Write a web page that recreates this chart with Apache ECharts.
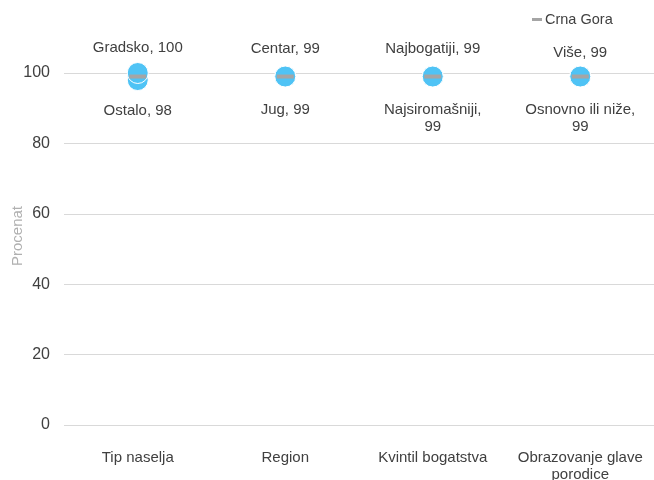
<!DOCTYPE html>
<html><head><meta charset="utf-8">
<script src="https://cdn.jsdelivr.net/npm/echarts@6/dist/echarts.min.js"></script>
<style>html,body{margin:0;padding:0;background:#fff}#c{width:654px;height:480px}</style>
</head><body><div id="c"></div>
<script>
var categories = ['Tip naselja', 'Region', 'Kvintil bogatstva', 'Obrazovanje glave\nporodice'];
var highNames = ['Gradsko', 'Centar', 'Najbogatiji', 'Više'];
var highValues = [100, 99, 99, 99];
var lowNames = ['Ostalo', 'Jug', 'Najsiromašniji,\n', 'Osnovno ili niže,\n'];
var lowValues = [98, 99, 99, 99];
var nationalName = 'Crna Gora';
var nationalValues = [99, 99, 99, 99];
var yTicks = [0, 20, 40, 60, 80, 100];

var font = 'Liberation Sans';
var chart = echarts.init(document.getElementById('c'));
function mk(names, vals) {
  return vals.map(function (v, i) { return { value: v, name: names[i] }; });
}
var highData = mk(highNames, highValues);
highData[0].label = { distance: 7 };
highData[3].label = { distance: 5 };
var lowData = mk(lowNames, lowValues);
lowData[0].label = { distance: 11 };
chart.setOption({
  animation: false,
  textStyle: { fontFamily: font },
  legend: {
    data: [{ name: nationalName, icon: 'rect' }],
    left: 527, top: 7, itemWidth: 10, itemHeight: 3, itemGap: 2,
    textStyle: { color: '#404040', fontSize: 14.5, fontFamily: font, padding: [0, 0, 0, -2] }
  },
  grid: { left: 64, right: 0, top: 73, bottom: 55, containLabel: false, outerBoundsMode: 'none' },
  xAxis: {
    type: 'category', data: categories,
    axisLine: { show: false }, axisTick: { show: false },
    axisLabel: { color: '#404040', fontSize: 15, margin: 24, lineHeight: 17, fontFamily: font, interval: 0 }
  },
  yAxis: {
    type: 'value', min: yTicks[0], max: yTicks[yTicks.length - 1], interval: 20,
    name: 'Procenat', nameLocation: 'middle', nameGap: 39, nameMoveOverlap: false,
    nameTextStyle: { color: '#b0b0b0', fontSize: 15, fontFamily: font, padding: [0, 0, 0, 26] },
    axisLine: { show: false }, axisTick: { show: false },
    axisLabel: { color: '#404040', fontSize: 16, margin: 14, fontFamily: font },
    splitLine: { lineStyle: { color: '#d9d9d9', width: 1 } }
  },
  series: [
    {
      name: 'low', type: 'scatter', data: lowData, symbolSize: 21, z: 2,
      itemStyle: { color: '#4fc3f5', borderColor: '#fff', borderWidth: 1, opacity: 1 },
      label: {
        show: true, position: 'bottom', distance: 14, color: '#404040', fontSize: 15, lineHeight: 17,
        fontFamily: font, align: 'center',
        formatter: function (p) {
          var n = p.name;
          return n.indexOf('\n') >= 0 ? n + p.value : n + ', ' + p.value;
        }
      }
    },
    {
      name: 'high', type: 'scatter', data: highData, symbolSize: 21, z: 3,
      itemStyle: { color: '#4fc3f5', borderColor: '#fff', borderWidth: 1, opacity: 1 },
      label: {
        show: true, position: 'top', distance: 9, color: '#404040', fontSize: 15,
        fontFamily: font,
        formatter: function (p) { return p.name + ', ' + p.value; }
      }
    },
    {
      name: nationalName, type: 'scatter', data: nationalValues, symbol: 'rect', symbolSize: [17, 4], z: 4,
      itemStyle: { color: '#a5a5a5', opacity: 1 }
    }
  ]
});
</script></body></html>
